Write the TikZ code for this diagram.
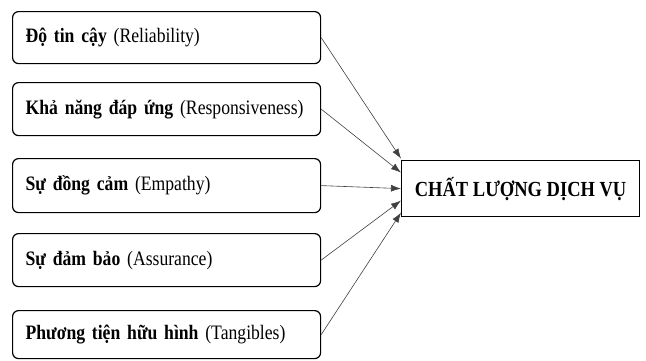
\documentclass[tikz,border=0pt]{standalone}
\usepackage{fontspec}
\setmainfont{Liberation Serif}[FakeStretch=0.86]
\usetikzlibrary{arrows.meta}

\begin{document}
\begin{tikzpicture}[x=1pt, y=-1pt, >={Latex[length=10pt,width=7pt]},
    nhanto/.style={draw, line width=1.2pt, rounded corners=6pt, anchor=north west,
      text width=282pt, inner xsep=13pt, align=left, font=\fontsize{20.5}{24}\selectfont},
    ketqua/.style={draw, line width=1.2pt, anchor=north west, minimum width=238pt,
      minimum height=56pt, font=\fontsize{21.5}{24}\selectfont\bfseries},
    muiten/.style={->, black!75, line width=0.6pt}]

    \useasboundingbox (0,0) rectangle (646,360);

    % Cac nhan to
    \node[nhanto, minimum height=52pt] (tincay) at (12,11) {\textbf{Độ tin cậy} (Reliability)};
    \node[nhanto, minimum height=53pt] (dapung) at (12,82) {\textbf{Khả năng đáp ứng} (Responsiveness)};
    \node[nhanto, minimum height=54pt] (dongcam) at (12,158) {\textbf{Sự đồng cảm} (Empathy)};
    \node[nhanto, minimum height=53pt] (dambao) at (12,233) {\textbf{Sự đảm bảo} (Assurance)};
    \node[nhanto, minimum height=48pt] (huuhinh) at (12,310) {\textbf{Phương tiện hữu hình} (Tangibles)};

    % Chat luong dich vu
    \node[ketqua] (chatluong) at (401,160) {CHẤT LƯỢNG DỊCH VỤ};

    % Diem den cua mui ten
    \coordinate (den1) at ([yshift=30pt]chatluong.west);
    \coordinate (den2) at ([yshift=16pt]chatluong.west);
    \coordinate (den3) at (chatluong.west);
    \coordinate (den4) at ([yshift=-12pt]chatluong.west);
    \coordinate (den5) at ([yshift=-24pt]chatluong.west);

    % Mui ten
    \draw[muiten] (tincay.east) -- (den1);
    \draw[muiten] (dapung.east) -- (den2);
    \draw[muiten] (dongcam.east) -- (den3);
    \draw[muiten] (dambao.east) -- (den4);
    \draw[muiten] (huuhinh.east) -- (den5);

\end{tikzpicture}
\end{document}
